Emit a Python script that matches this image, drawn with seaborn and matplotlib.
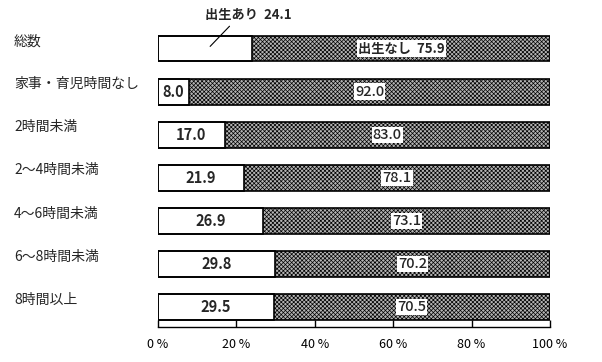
import matplotlib
matplotlib.use("Agg")
import matplotlib.pyplot as plt
import matplotlib.transforms as mtransforms
import seaborn as sns
import pandas as pd

# data (%)
categories = ["総数", "家事・育児時間なし", "2時間未満", "2～4時間未満",
              "4～6時間未満", "6～8時間未満", "8時間以上"]
birth_yes = [24.1, 8.0, 17.0, 21.9, 26.9, 29.8, 29.5]
birth_no = [75.9, 92.0, 83.0, 78.1, 73.1, 70.2, 70.5]
xticks = [0, 20, 40, 60, 80, 100]

sns.set_style("white")
plt.rcParams['font.family'] = ['Noto Sans CJK JP', 'DejaVu Sans']
plt.rcParams['hatch.linewidth'] = 0.5

df = pd.DataFrame({"cat": categories, "yes": birth_yes, "no": birth_no})
df["total"] = df["yes"] + df["no"]

fig = plt.figure(figsize=(6.02, 3.62), dpi=100)
ax = fig.add_axes([158 / 602, 1 - 327 / 362, 392 / 602, 300 / 362])

# grey (no birth) as full-length bar, white (birth) drawn over it
sns.barplot(data=df, x="total", y="cat", orient="h", color="#a6a6a6",
            width=0.6, edgecolor="black", linewidth=1, ax=ax)
n = len(ax.patches)
for p in ax.patches:
    p.set_hatch("xxxxxxxx")
    p.set_edgecolor("black")
    p.set_linewidth(0.0)
    p.set_facecolor("#b4b4b4")
sns.barplot(data=df, x="yes", y="cat", orient="h", color="white",
            width=0.6, edgecolor="black", linewidth=1, ax=ax)
for i in range(len(categories)):
    ax.add_patch(plt.Rectangle((0, i - 0.3), 100, 0.6, fill=False,
                               edgecolor="black", linewidth=1.2, zorder=5))
for p in ax.patches[n:n + len(categories)]:
    p.set_linewidth(1.2)
    p.set_zorder(4)

for i, (y, nv) in enumerate(zip(birth_yes, birth_no)):
    if i > 0:
        ax.text(y / 2, i, f"{y:.1f}", ha="center", va="center",
                fontsize=10.5, fontweight="bold", zorder=6)
        ax.text(y + nv / 2, i, f"{nv:.1f}", ha="center", va="center",
                fontsize=10.5, fontweight="medium", zorder=6,
                bbox=dict(facecolor="white", edgecolor="none", pad=0.8))
    else:
        ax.text(y + nv / 2, i, f"出生なし  {nv:.1f}", ha="center", va="center",
                fontsize=9.5, fontweight="bold", zorder=6,
                bbox=dict(facecolor="white", edgecolor="none", pad=0.8))

# callout for the first white segment
ax.annotate(f"出生あり  {birth_yes[0]:.1f}", xy=(13.3, -0.05),
            xytext=(12, -0.78),
            ha="left", va="center", fontsize=9.5, fontweight="bold",
            arrowprops=dict(arrowstyle="-", color="black", lw=0.8,
                            shrinkA=1, shrinkB=0,
                            relpos=(0.33, 0.0)),
            annotation_clip=False, zorder=7)

# category labels on the far left
trans = mtransforms.blended_transform_factory(fig.transFigure, ax.transData)
for i, c in enumerate(categories):
    ax.text(14 / 602, i - 0.17, c, transform=trans, ha="left", va="center",
            fontsize=10)

ax.set_xlim(0, 100)
ax.set_ylim(6.465, -0.5)
ax.set_yticks([])
ax.set_ylabel("")
ax.set_xlabel("")
ax.set_xticks(xticks)
ax.set_xticklabels([f"{t} %" for t in xticks], fontsize=9)
ax.tick_params(axis="x", direction="in", length=5, width=1, pad=8,
               bottom=True, colors="black")
for s in ["top", "right", "left"]:
    ax.spines[s].set_visible(False)
ax.spines["bottom"].set_color("black")
ax.spines["bottom"].set_linewidth(1)

fig.savefig("out.png", dpi=100)
